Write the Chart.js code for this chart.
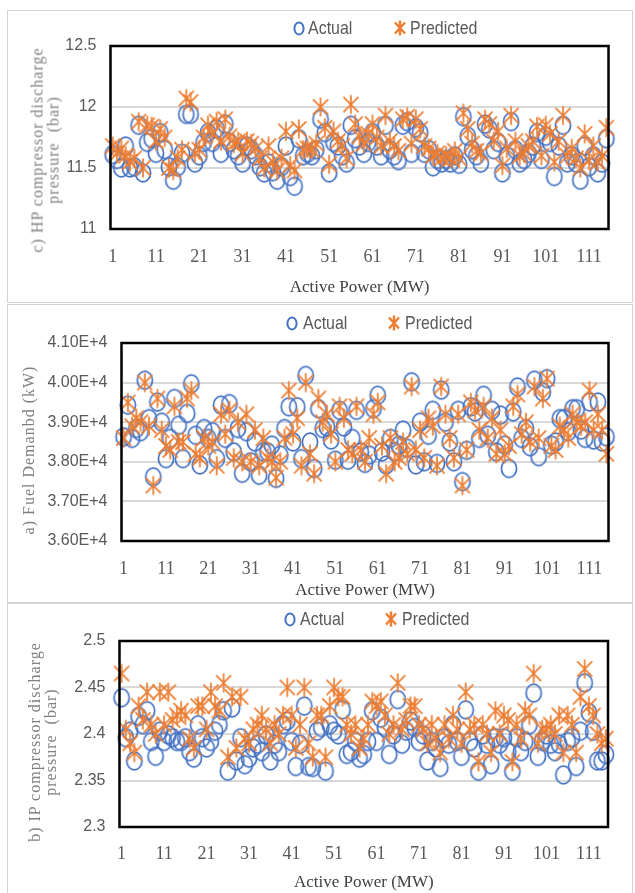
<!DOCTYPE html>
<html>
<head>
<meta charset="utf-8">
<script src="https://cdn.jsdelivr.net/npm/chart.js@4.4.1/dist/chart.umd.min.js"></script>
<style>
  html, body { margin:0; padding:0; background:#fff; }
  body { width:635px; height:893px; position:relative; overflow:hidden; }
  .panel { position:absolute; left:7px; width:626px; border:1.5px solid #d4d4d4; box-sizing:border-box; }
  canvas { position:absolute; left:0; }
  .ytitle { position:absolute; transform:translate(-50%,-50%) rotate(-90deg); white-space:nowrap; text-align:center;
            font-family:"Liberation Serif", serif; font-size:16px; line-height:15.5px; color:#808080; letter-spacing:1px; }
  .legend { position:absolute; font-family:"Liberation Sans",sans-serif;
            font-size:19px; color:#595959; white-space:nowrap; line-height:20px; }
  .legend svg { position:absolute; }
  .legend span { position:absolute; top:0; display:inline-block; transform:scaleX(0.84); transform-origin:0 50%; }
</style>
</head>
<body>
<div class="panel" style="top:10px;height:293px;"></div>
<div class="panel" style="top:304px;height:299px;"></div>
<div class="panel" style="top:603px;height:300px;"></div>

<canvas id="c1" width="635" height="302" style="top:0px"></canvas>
<canvas id="c2" width="635" height="300" style="top:303px"></canvas>
<canvas id="c3" width="635" height="290" style="top:603px"></canvas>

<div class="ytitle" style="left:44.5px;top:150px;">c) HP compressor discharge<br>pressure&nbsp; (bar)</div>
<div class="ytitle" style="left:29px;top:450px;">a) Fuel Demanbd (kW)</div>
<div class="ytitle" style="left:42.3px;top:742px;">b) IP compressor discharge<br>pressure&nbsp; (bar)</div>

<div id="legends"></div>

<script>
// ---------------- DATA ----------------
const categories = [];
for (let i = 1; i <= 115; i++) categories.push(String(i));

const xTitle = 'Active Power (MW)';
const seriesNames = ['Actual', 'Predicted'];

const hpActual = [11.61,11.57,11.50,11.68,11.50,11.51,11.85,11.46,11.71,11.74,
11.62,11.79,11.65,11.51,11.40,11.51,11.62,11.94,11.94,11.54,
11.60,11.71,11.79,11.71,11.82,11.62,11.86,11.71,11.65,11.60,
11.54,11.68,11.65,11.60,11.51,11.46,11.54,11.47,11.40,11.51,
11.68,11.43,11.35,11.74,11.60,11.62,11.60,11.65,11.90,11.79,
11.46,11.71,11.68,11.60,11.54,11.85,11.74,11.68,11.62,11.71,
11.79,11.68,11.60,11.85,11.65,11.60,11.56,11.85,11.88,11.62,
11.83,11.79,11.62,11.65,11.51,11.57,11.54,11.57,11.54,11.60,
11.53,11.92,11.76,11.65,11.60,11.54,11.86,11.82,11.65,11.71,
11.46,11.60,11.88,11.65,11.54,11.57,11.62,11.68,11.79,11.57,
11.76,11.71,11.43,11.68,11.85,11.54,11.60,11.54,11.40,11.68,
11.51,11.60,11.46,11.54,11.74];

const hpPredicted = [11.68,11.62,11.66,11.60,11.55,11.58,11.88,11.50,11.85,11.84,
11.72,11.82,11.75,11.50,11.48,11.58,11.65,12.07,12.04,11.62,
11.65,11.75,11.85,11.78,11.88,11.72,11.90,11.76,11.70,11.72,
11.62,11.72,11.70,11.66,11.58,11.50,11.68,11.55,11.48,11.58,
11.80,11.52,11.48,11.82,11.65,11.66,11.65,11.70,12.00,11.83,
11.53,11.80,11.72,11.68,11.58,12.02,11.86,11.76,11.70,11.78,
11.86,11.75,11.68,11.93,11.72,11.68,11.64,11.90,11.92,11.70,
11.90,11.82,11.68,11.66,11.60,11.62,11.58,11.60,11.58,11.64,
11.58,11.95,11.82,11.70,11.64,11.62,11.90,11.86,11.72,11.80,
11.52,11.66,11.93,11.72,11.60,11.62,11.68,11.72,11.84,11.60,
11.85,11.78,11.55,11.72,11.93,11.60,11.66,11.58,11.50,11.78,
11.56,11.68,11.55,11.60,11.83];

const fuelActual = [38630,39430,38590,38840,38760,40060,39090,37620,39510,39000,
38080,38590,39600,38920,38080,39220,39970,38670,37920,38840,
38590,38760,38080,39430,38590,39470,38250,38840,37710,38760,
38000,38500,37660,38250,38250,38420,37580,38170,38840,39390,
38500,39390,38080,40180,38500,37830,39340,38840,38880,38550,
38040,39300,38880,38040,38590,39300,38250,37960,38170,39340,
39680,38250,37920,38590,38250,38420,38800,38340,40020,37920,
39000,38000,38670,39300,37960,39810,39000,38500,38000,39300,
37500,38290,39390,39260,38590,39680,38670,39300,38250,39180,
38420,37830,39260,39890,38590,38840,38380,40060,38130,39760,
40100,38420,38500,39090,39090,38760,39340,39340,38800,38590,
39510,38550,39510,38500,38630];

const fuelPredicted = [38600,39500,38900,39100,39000,40000,38900,37400,39600,38800,
38400,38300,39400,38500,38500,39600,39800,38200,38100,38600,
38400,38500,37900,39200,38700,39300,38100,39000,38000,39200,
38000,38800,37900,38600,38100,38000,37600,38000,38600,39800,
38700,39100,37900,40000,38200,37700,39600,39000,39200,38700,
38000,39400,39100,38300,38200,39400,38300,38000,38600,39200,
39500,38400,37700,38600,38000,38100,38500,38200,39900,38300,
38800,38100,39100,38900,37900,39900,39200,38600,38100,39200,
37400,38300,39500,39300,38800,39400,38600,39100,38200,38800,
38200,38400,39400,39700,38700,39000,38500,39900,38600,39600,
40100,38400,38300,38900,38800,38600,39200,39000,38900,39000,
39800,38800,39200,38800,38200];

const ipActual = [2.439,2.396,2.403,2.371,2.419,2.410,2.425,2.392,2.376,2.403,
2.392,2.399,2.396,2.392,2.392,2.396,2.381,2.374,2.410,2.396,
2.385,2.392,2.403,2.410,2.425,2.360,2.428,2.371,2.396,2.367,
2.374,2.385,2.389,2.381,2.399,2.371,2.389,2.381,2.410,2.414,
2.392,2.365,2.389,2.430,2.365,2.364,2.403,2.407,2.360,2.410,
2.403,2.399,2.426,2.378,2.381,2.392,2.374,2.378,2.392,2.425,
2.392,2.417,2.407,2.378,2.399,2.437,2.389,2.403,2.414,2.407,
2.392,2.399,2.371,2.392,2.385,2.364,2.396,2.389,2.410,2.392,
2.376,2.426,2.392,2.385,2.360,2.399,2.389,2.367,2.396,2.389,
2.396,2.381,2.360,2.396,2.381,2.392,2.410,2.444,2.376,2.392,
2.399,2.389,2.381,2.389,2.356,2.392,2.396,2.365,2.403,2.455,
2.423,2.403,2.371,2.371,2.378];

const ipPredicted = [2.465,2.405,2.390,2.380,2.430,2.415,2.445,2.410,2.400,2.445,
2.410,2.445,2.415,2.420,2.425,2.420,2.395,2.385,2.430,2.430,
2.405,2.445,2.430,2.425,2.455,2.375,2.440,2.385,2.440,2.395,
2.390,2.405,2.410,2.420,2.405,2.390,2.410,2.400,2.420,2.450,
2.420,2.385,2.410,2.450,2.390,2.375,2.420,2.420,2.375,2.430,
2.450,2.440,2.440,2.410,2.400,2.410,2.385,2.395,2.410,2.435,
2.430,2.435,2.420,2.400,2.410,2.455,2.405,2.415,2.430,2.430,
2.410,2.405,2.390,2.410,2.395,2.380,2.410,2.395,2.420,2.405,
2.390,2.445,2.405,2.410,2.370,2.410,2.400,2.380,2.425,2.400,
2.420,2.415,2.370,2.410,2.395,2.425,2.420,2.465,2.390,2.405,
2.405,2.410,2.400,2.420,2.380,2.420,2.410,2.380,2.440,2.470,
2.430,2.420,2.400,2.390,2.395];

const hpTicks = { min: 11, max: 12.5, step: 0.5 };
const fuelTicks = { min: 36000, max: 41000, step: 1000 };
const ipTicks = { min: 2.3, max: 2.5, step: 0.05 };

// ---------------- STYLE ----------------
const BLUE = '#4472C4';
const ORANGE = '#ED7D31';

function circleImage(w, h, rx, ry, lw) {
  const c = document.createElement('canvas');
  c.width = w; c.height = h;
  const g = c.getContext('2d');
  g.strokeStyle = BLUE; g.lineWidth = lw;
  g.beginPath(); g.ellipse(w/2, h/2, rx, ry, 0, 0, Math.PI*2); g.stroke();
  return c;
}
function starImage(w, h, ax, ay, lw) {
  const c = document.createElement('canvas');
  c.width = w; c.height = h;
  const g = c.getContext('2d');
  g.strokeStyle = ORANGE; g.lineWidth = lw; g.lineCap = 'butt';
  const cx = w/2, cy = h/2;
  g.beginPath();
  g.moveTo(cx-ax, cy-ay*0.8); g.lineTo(cx+ax, cy+ay*0.8);
  g.moveTo(cx+ax, cy-ay*0.8); g.lineTo(cx-ax, cy+ay*0.8);
  g.moveTo(cx, cy-ay); g.lineTo(cx, cy+ay);
  g.stroke();
  return c;
}
const circleImg = circleImage(20, 22, 7.6, 8.8, 1.7);
const starImg = starImage(20, 22, 7.5, 9.5, 1.7);

const framePlugin = {
  id: 'frame',
  afterDraw(chart) {
    const {ctx, chartArea: a} = chart;
    ctx.save();
    ctx.strokeStyle = '#000'; ctx.lineWidth = 2.5;
    ctx.strokeRect(a.left, a.top, a.right - a.left, a.bottom - a.top);
    ctx.restore();
  }
};

function makeChart(id, actual, predicted, tk, fmt, cfg) {
  new Chart(document.getElementById(id), {
    type: 'line',
    data: {
      labels: categories,
      datasets: [
        { label: seriesNames[0], data: actual, showLine: false, pointStyle: circleImg, pointRadius: 8,
          borderColor: BLUE, backgroundColor: 'rgba(0,0,0,0)', order: 1 },
        { label: seriesNames[1], data: predicted, showLine: false, pointStyle: starImg, pointRadius: 8,
          borderColor: ORANGE, backgroundColor: 'rgba(0,0,0,0)', order: 0 }
      ]
    },
    options: {
      responsive: false, animation: false, events: [],
      layout: { padding: { left: 0, right: cfg.padRight, top: cfg.padTop, bottom: 0 } },
      plugins: { legend: { display: false }, tooltip: { enabled: false } },
      scales: {
        x: {
          offset: true,
          grid: { display: false, drawTicks: false },
          border: { display: false },
          ticks: {
            autoSkip: false, maxRotation: 0, minRotation: 0, padding: cfg.xTickPad, color: '#595959',
            font: { family: 'Liberation Serif', size: 18, lineHeight: 1 },
            callback: (v, i) => (i % 10 === 0 ? categories[i] : '')
          },
          title: { display: true, text: xTitle, color: '#404040',
                   font: { family: 'Liberation Serif', size: 17, lineHeight: 1 },
                   padding: { top: 0, bottom: cfg.xTitlePad } },
          afterFit: s => { s.height = cfg.xHeight; }
        },
        y: {
          min: tk.min, max: tk.max,
          grid: { color: '#d9d9d9', lineWidth: 2, drawTicks: false },
          border: { display: false },
          ticks: {
            stepSize: tk.step, padding: 14, color: '#595959',
            font: { family: "'Liberation Sans',sans-serif", size: 16 },
            callback: fmt
          },
          afterFit: s => { s.width = cfg.yWidth; }
        }
      }
    },
    plugins: [framePlugin]
  });
}

const plainFmt = v => String(parseFloat(Number(v).toFixed(3)));
const sciFmt = v => (v / 10000).toFixed(2) + 'E+4';

makeChart('c1', hpActual, hpPredicted, hpTicks, plainFmt,
  { padTop: 46, padRight: 26.5, yWidth: 110.5, xHeight: 73, xTickPad: 19, xTitlePad: 5.5 });
makeChart('c2', fuelActual, fuelPredicted, fuelTicks, sciFmt,
  { padTop: 40, padRight: 26.5, yWidth: 121.5, xHeight: 62, xTickPad: 19, xTitlePad: 4 });
makeChart('c3', ipActual, ipPredicted, ipTicks, plainFmt,
  { padTop: 38, padRight: 27, yWidth: 119.5, xHeight: 66, xTickPad: 18, xTitlePad: 1.5 });

// ---------------- LEGENDS (HTML) ----------------
const legendSpecs = [
  { y: 28, a: 299, at: 308, p: 400, pt: 410 },
  { y: 323, a: 292, at: 303, p: 393.5, pt: 405 },
  { y: 619, a: 290, at: 300, p: 391, pt: 401.6 }
];
const circInner = '<ellipse cx="6" cy="7.5" rx="4.6" ry="6" fill="none" stroke="' + BLUE + '" stroke-width="2"/>';
const starInner = '<path d="M2 2.5 L12 13.5 M12 2.5 L2 13.5 M7 0.5 L7 15.5" stroke="' + ORANGE + '" stroke-width="2.4" fill="none"/>';
const lg = document.getElementById('legends');
legendSpecs.forEach(s => {
  const d = document.createElement('div');
  d.className = 'legend';
  d.style.left = '0px'; d.style.top = (s.y - 10) + 'px';
  d.innerHTML =
    '<svg style="left:' + (s.a - 6) + 'px;top:2.5px" width="12" height="15">' + circInner + '</svg>' +
    '<span style="left:' + s.at + 'px">' + seriesNames[0] + '</span>' +
    '<svg style="left:' + (s.p - 7) + 'px;top:2px" width="14" height="16">' + starInner + '</svg>' +
    '<span style="left:' + s.pt + 'px">' + seriesNames[1] + '</span>';
  lg.appendChild(d);
});
</script>
</body>
</html>
